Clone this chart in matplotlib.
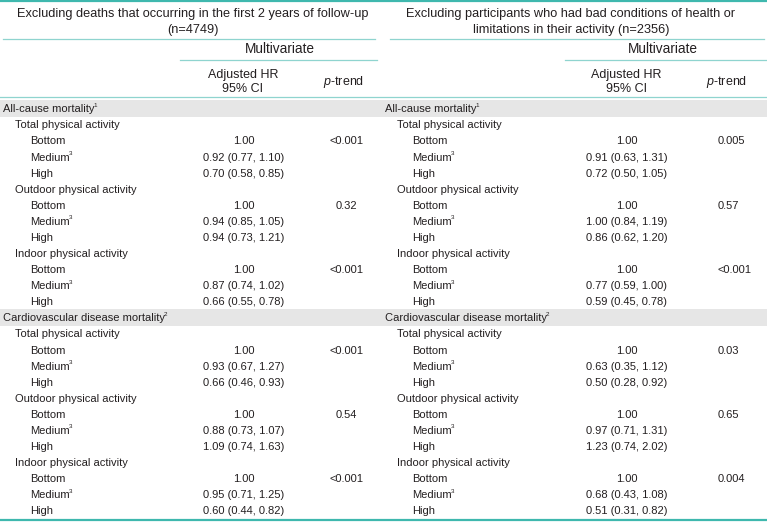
import matplotlib.pyplot as plt

plt.rcParams['font.family'] = ['Liberation Sans', 'DejaVu Sans']
plt.rcParams['mathtext.fontset'] = 'custom'
plt.rcParams['mathtext.rm'] = 'Liberation Sans'
plt.rcParams['mathtext.it'] = 'Liberation Sans:italic'

# Dados da tabela
titulos = [
    ["Excluding deaths that occurring in the first 2 years of follow-up", "(n=4749)"],
    ["Excluding participants who had bad conditions of health or",
     "limitations in their activity (n=2356)"],
]
secoes = ["All-cause mortality", "Cardiovascular disease mortality"]
notas_secoes = ["1", "2"]
atividades = ["Total physical activity", "Outdoor physical activity", "Indoor physical activity"]
niveis = ["Bottom", "Medium", "High"]
notas_niveis = ["", "3", ""]

hr_esq = [
    "1.00", "0.92 (0.77, 1.10)", "0.70 (0.58, 0.85)",
    "1.00", "0.94 (0.85, 1.05)", "0.94 (0.73, 1.21)",
    "1.00", "0.87 (0.74, 1.02)", "0.66 (0.55, 0.78)",
    "1.00", "0.93 (0.67, 1.27)", "0.66 (0.46, 0.93)",
    "1.00", "0.88 (0.73, 1.07)", "1.09 (0.74, 1.63)",
    "1.00", "0.95 (0.71, 1.25)", "0.60 (0.44, 0.82)",
]
p_esq = ["<0.001", "0.32", "<0.001", "<0.001", "0.54", "<0.001"]

hr_dir = [
    "1.00", "0.91 (0.63, 1.31)", "0.72 (0.50, 1.05)",
    "1.00", "1.00 (0.84, 1.19)", "0.86 (0.62, 1.20)",
    "1.00", "0.77 (0.59, 1.00)", "0.59 (0.45, 0.78)",
    "1.00", "0.63 (0.35, 1.12)", "0.50 (0.28, 0.92)",
    "1.00", "0.97 (0.71, 1.31)", "1.23 (0.74, 2.02)",
    "1.00", "0.68 (0.43, 1.08)", "0.51 (0.31, 0.82)",
]
p_dir = ["0.005", "0.57", "<0.001", "0.03", "0.65", "0.004"]

W, H = 767, 523
fig = plt.figure(figsize=(W / 100, H / 100), dpi=100)
ax = fig.add_axes([0, 0, 1, 1])
ax.set_xlim(0, W)
ax.set_ylim(H, 0)
ax.axis('off')
renderer = fig.canvas.get_renderer()

cor_txt = '#231f20'
teal_forte = '#3fb8ae'
teal = '#8fd4cf'
fs = 8
fs_tit = 9.2
fs_cab = 9

y0 = 108
passo = 16.08
desloc = 4.3  # centro da linha -> linha de base


def texto(x, y, s, ha='left', size=fs, nota=''):
    t = ax.text(x, y + desloc, s, ha=ha, va='baseline', fontsize=size, color=cor_txt)
    if nota:
        bb = t.get_window_extent(renderer=renderer)
        xf = ax.transData.inverted().transform((bb.x1, bb.y0))[0]
        ax.text(xf - 1.2, y - 1.2, nota, ha='left', va='baseline', fontsize=4.5, color=cor_txt)
    return t


# Linhas e faixas
ax.axhline(1, color=teal_forte, lw=1.6)
ax.plot([3, 375], [39, 39], color=teal, lw=0.9)
ax.plot([390, 764], [39, 39], color=teal, lw=0.9)
ax.plot([180, 377], [60, 60], color=teal, lw=0.9)
ax.plot([565, 767], [60, 60], color=teal, lw=0.9)
ax.axhline(97, color=teal, lw=0.9)
ax.axhline(520, color=teal_forte, lw=1.6)
for k in range(2):
    yc = y0 + 13 * k * passo
    ax.axhspan(yc - 8, yc + 8.8, color='#e6e6e6', lw=0)

paineis = [
    dict(x0=3, xt=193, xmv=280, xhr=244, xp=346, hap='center', xpt=344, hr=hr_esq, p=p_esq, tit=titulos[0]),
    dict(x0=385, xt=571, xmv=663, xhr=627, xp=718, hap='left', xpt=727, hr=hr_dir, p=p_dir, tit=titulos[1]),
]

for pn in paineis:
    texto(pn['xt'], 13, pn['tit'][0], ha='center', size=fs_tit)
    texto(pn['xt'], 29, pn['tit'][1], ha='center', size=fs_tit)
    texto(pn['xmv'], 49, "Multivariate", ha='center', size=9.8)
    texto(pn['xhr'] - 1, 74, "Adjusted HR", ha='center', size=fs_cab)
    texto(pn['xhr'] - 1, 88, "95% CI", ha='center', size=fs_cab)
    texto(pn['xpt'], 81, r"$\mathit{p}$-trend", ha='center', size=fs_cab)

    linha = 0
    i_hr = 0
    i_p = 0
    for s, ns in zip(secoes, notas_secoes):
        texto(pn['x0'], y0 + linha * passo, s, nota=ns)
        linha += 1
        for a in atividades:
            texto(pn['x0'] + 12, y0 + linha * passo, a)
            linha += 1
            for j, (n, nn) in enumerate(zip(niveis, notas_niveis)):
                y = y0 + linha * passo
                texto(pn['x0'] + 27, y, n, nota=nn)
                texto(pn['xhr'], y, pn['hr'][i_hr], ha='center')
                if j == 0:
                    texto(pn['xp'], y, pn['p'][i_p], ha=pn['hap'])
                    i_p += 1
                i_hr += 1
                linha += 1

fig.savefig('out.png', dpi=100)
